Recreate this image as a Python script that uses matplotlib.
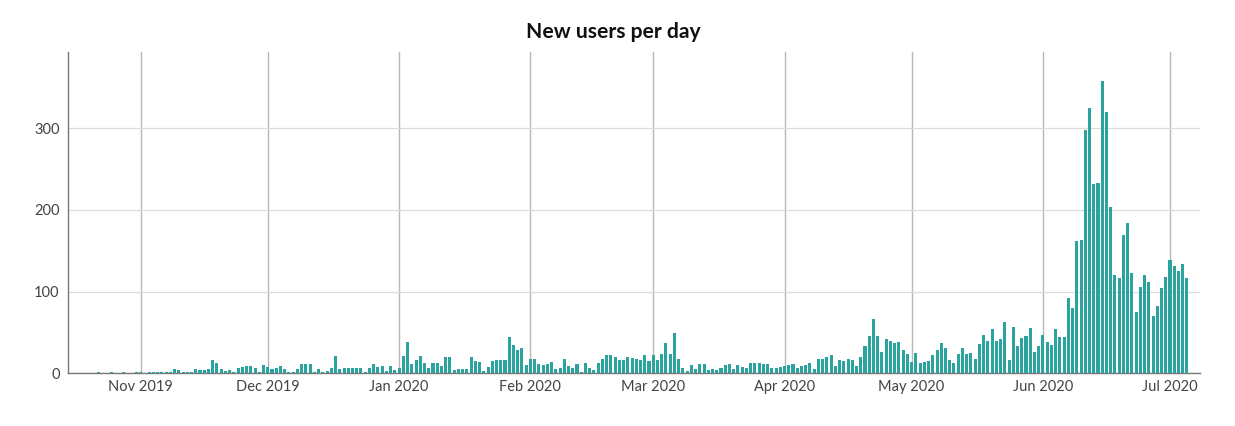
import matplotlib
matplotlib.use("Agg")
import matplotlib.pyplot as plt
import matplotlib.dates as mdates
import numpy as np
import pandas as pd

plt.rcParams['font.family'] = ['Lato', 'DejaVu Sans']

start_date = "2019-10-15"
oct_2019 = [0, 0, 0, 0, 0, 0, 0, 1, 0, 0, 1, 0, 0, 1, 0, 0, 2]
nov_2019 = [1, 0, 1, 2, 1, 1, 1, 2, 5, 4, 2, 2, 2, 5, 4, 4, 5, 16, 12, 5,
            3, 4, 2, 7, 8, 9, 9, 6, 2, 10]
dec_2019 = [8, 5, 7, 9, 5, 2, 1, 5, 11, 11, 11, 1, 5, 1, 3, 7, 21, 5, 7, 7,
            7, 7, 7, 1, 7, 11, 8, 9, 3, 9, 4]
jan_2020 = [7, 21, 38, 11, 16, 21, 13, 7, 12, 12, 9, 20, 20, 4, 5, 5, 5, 20, 15, 14,
            3, 8, 15, 16, 16, 16, 44, 35, 28, 31, 10]
feb_2020 = [18, 18, 11, 10, 11, 14, 5, 7, 18, 9, 7, 11, 2, 13, 7, 4, 13, 18, 22, 22,
            20, 16, 16, 20, 19, 17, 16, 22, 15]
mar_2020 = [22, 16, 24, 37, 24, 49, 18, 6, 3, 10, 5, 11, 11, 4, 5, 4, 7, 10, 11, 5,
            10, 8, 6, 12, 12, 12, 11, 11, 6, 7, 8]
apr_2020 = [9, 10, 11, 7, 9, 10, 13, 5, 18, 18, 20, 22, 9, 16, 15, 17, 16, 9, 20, 33,
            46, 67, 46, 26, 42, 40, 37, 38, 29, 24]
may_2020 = [14, 25, 12, 14, 15, 22, 29, 37, 31, 16, 13, 24, 31, 24, 25, 18, 36, 47, 39, 54,
            39, 42, 63, 16, 57, 33, 43, 46, 56, 26, 34]
jun_2020 = [47, 38, 35, 54, 45, 44, 92, 80, 162, 163, 298, 324, 232, 233, 358, 319, 204, 120, 116, 169,
            184, 123, 75, 106, 120, 112, 70, 82, 104, 118]
jul_2020 = [138, 131, 125, 134, 117]

new_users = (oct_2019 + nov_2019 + dec_2019 + jan_2020 + feb_2020 + mar_2020
             + apr_2020 + may_2020 + jun_2020 + jul_2020)
dates = pd.date_range(start_date, periods=len(new_users), freq="D")

y_ticks = [0, 100, 200, 300]
title = "New users per day"

fig = plt.figure(figsize=(12.35, 4.26), dpi=100)
ax = fig.add_axes([68 / 1235, 1 - 373.3 / 426, (1200 - 68) / 1235, (373.3 - 52) / 426])

ax.bar(dates, new_users, width=0.72, color="#2ba39e", zorder=3)

ax.set_xlim(pd.Timestamp("2019-10-14 20:00"), pd.Timestamp("2020-07-08 02:00"))
ax.set_ylim(0, 393)
ax.set_yticks(y_ticks)
ax.xaxis.set_major_locator(mdates.MonthLocator())
ax.xaxis.set_major_formatter(mdates.DateFormatter("%b %Y"))

ax.grid(axis="y", color="#dcdcdc", linewidth=0.9, zorder=0)
ax.grid(axis="x", color="#b8b8b8", linewidth=1.0, zorder=0)
ax.tick_params(axis="both", length=0, labelsize=10.5, colors="#444444", pad=6)
ax.tick_params(axis="x", pad=5)

for side in ["top", "right"]:
    ax.spines[side].set_visible(False)
for side in ["left", "bottom"]:
    ax.spines[side].set_color("#777777")
    ax.spines[side].set_linewidth(1.0)

fig.text(0.4965, 0.926, title, ha="center", va="center", fontsize=15.2,
         fontweight="bold", color="#111111")

fig.savefig("out.png", dpi=100)
